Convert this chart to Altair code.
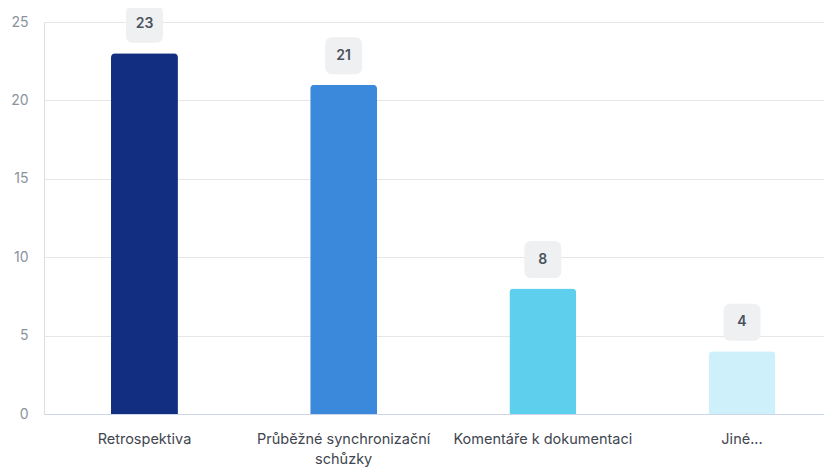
import altair as alt
import pandas as pd

categories = ["Retrospektiva", "Průběžné synchronizační schůzky", "Komentáře k dokumentaci", "Jiné..."]
values = [23, 21, 8, 4]
colors = ["#112e80", "#3a89da", "#5fcfee", "#cdf0fb"]

df = pd.DataFrame({"cat": categories, "value": values, "color": colors})

FONT = "Inter"

x = alt.X(
    "cat:N",
    sort=categories,
    title=None,
    scale=alt.Scale(paddingInner=0.664, paddingOuter=0.29, align=0.58),
    axis=alt.Axis(
        labelAngle=0,
        ticks=False,
        domain=True,
        domainColor="#ccd6eb",
        domainWidth=1,
        labelColor="#3f4650",
        labelFontSize=14.5,
        labelFont=FONT,
        labelPadding=18,
        labelLineHeight=20,
        labelLimit=300,
        grid=False,
        labelExpr="length(datum.label) > 24 ? [substring(datum.label, 0, lastindexof(datum.label, ' ')), substring(datum.label, lastindexof(datum.label, ' ') + 1)] : datum.label",
    ),
)
y = alt.Y(
    "value:Q",
    title=None,
    scale=alt.Scale(domain=[0, 25], nice=False),
    axis=alt.Axis(
        values=[0, 5, 10, 15, 20, 25],
        ticks=False,
        domain=False,
        grid=True,
        gridColor="#e6e6e6",
        labelColor="#8a929d",
        labelFontSize=14,
        labelFont=FONT,
        labelPadding=16,
    ),
)

base = alt.Chart(df)

bars = base.mark_bar(cornerRadiusTopLeft=4, cornerRadiusTopRight=4).encode(
    x=x,
    y=y,
    color=alt.Color("color:N", scale=None),
)

badge_path = "M -0.6,-1 L 0.6,-1 Q 1,-1 1,-0.6 L 1,0.6 Q 1,1 0.6,1 L -0.6,1 Q -1,1 -1,0.6 L -1,-0.6 Q -1,-1 -0.6,-1 Z"
badges = base.mark_point(
    shape=badge_path, size=1369, filled=True, opacity=1, color="#eff0f2", strokeWidth=0, yOffset=-29
).encode(x=alt.X("cat:N", sort=categories), y="value:Q")

labels = base.mark_text(
    font=FONT, fontSize=14, fontWeight=600, color="#4a525d", baseline="middle", yOffset=-29
).encode(x=alt.X("cat:N", sort=categories), y="value:Q", text="value:Q")

chart = (
    alt.layer(bars, badges, labels)
    .properties(
        width=780,
        height=392,
        autosize=alt.AutoSizeParams(type="none"),
        padding={"left": 36, "top": 14, "right": 0, "bottom": 54},
    )
    .configure_view(stroke=None)
    .configure(background="white")
)

chart.save("out.html", embed_options={"renderer": "svg", "actions": False})
